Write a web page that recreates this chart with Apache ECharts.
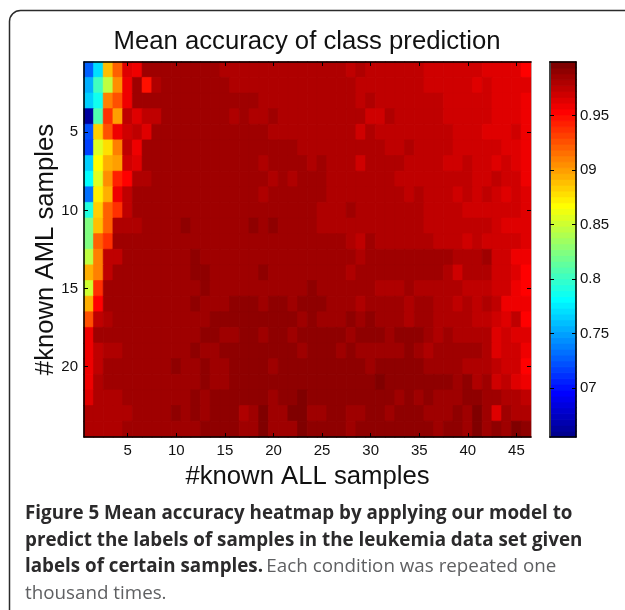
<!DOCTYPE html>
<html><head><meta charset="utf-8">
<style>html,body{margin:0;padding:0;background:#fff}#c{width:625px;height:610px}</style>
<script src="https://cdn.jsdelivr.net/npm/echarts@6/dist/echarts.min.js"></script>
</head><body><div id="c"></div>
<script>
const colLabels = Array.from({length:46},(_, i)=>String(i+1));
const rowLabels = Array.from({length:24},(_, i)=>String(i+1));
// Mean accuracy x 1000; each row is one #known AML count
const r01=[728,771,889,921,964,959,985,985,985,985,985,985,985,985,980,980,980,980,980,980,980,980,980,980,980,980,980,975,980,975,975,975,975,975,975,970,970,970,970,970,970,964,964,964,964,953];
const r02=[755,803,846,905,959,985,948,980,985,985,985,985,985,985,985,980,980,980,980,980,980,980,980,980,980,980,980,980,975,975,975,975,975,975,975,970,970,970,970,970,964,970,964,964,964,964];
const r03=[765,787,910,927,959,985,985,985,985,985,985,985,985,985,985,985,985,985,980,980,980,980,980,980,980,980,980,980,975,980,975,975,975,975,975,975,975,970,970,970,970,970,964,964,964,959];
const r04=[665,808,937,900,975,964,975,975,985,985,985,985,985,985,985,980,985,980,980,985,980,980,980,980,980,980,980,980,980,970,970,980,975,975,975,975,975,970,970,970,970,970,964,964,964,959];
const r05=[722,884,927,959,970,975,964,985,985,985,985,985,985,985,985,985,985,985,985,980,980,980,980,980,980,980,980,980,970,980,975,975,975,975,975,975,975,975,970,970,970,964,964,964,970,959];
const r06=[717,857,878,910,975,959,985,985,985,985,985,985,985,985,985,985,985,985,985,985,985,985,980,980,980,980,980,980,980,980,980,975,975,980,975,975,975,975,970,970,970,970,970,964,964,959];
const r07=[765,868,894,900,970,964,985,985,985,985,985,985,985,985,985,985,985,985,980,985,985,985,985,980,985,980,980,980,970,980,980,980,980,975,975,975,975,970,970,975,970,970,964,970,964,959];
const r08=[782,857,905,943,953,980,980,985,985,985,985,985,985,985,985,985,985,985,985,980,985,980,985,985,985,980,980,980,980,980,980,980,975,975,975,975,975,975,975,975,970,970,975,970,970,959];
const r09=[733,873,894,959,975,985,985,985,985,985,985,985,985,985,985,985,985,985,980,985,985,985,985,985,985,980,980,980,980,980,980,980,980,975,980,975,975,975,970,975,970,975,970,964,970,964];
const r10=[792,884,921,937,975,985,985,985,985,985,985,985,985,985,985,985,985,985,985,985,985,985,985,985,980,980,980,985,980,980,980,980,980,980,980,975,975,975,975,970,970,970,970,970,970,964];
const r11=[825,889,921,980,980,980,985,985,985,985,991,985,985,985,985,985,985,991,985,991,985,985,985,985,980,980,980,980,980,980,980,980,980,980,980,975,975,975,975,975,975,975,970,964,964,964];
const r12=[825,921,937,985,985,985,985,985,985,985,985,985,985,985,985,985,985,985,985,985,985,985,985,985,985,985,985,980,975,985,980,980,980,980,980,980,975,975,975,970,975,970,970,970,970,964];
const r13=[846,910,975,975,985,985,985,985,985,985,985,991,985,985,985,985,985,985,985,985,985,985,985,985,985,985,985,985,980,985,985,985,985,985,985,985,985,985,980,980,980,985,970,970,959,959];
const r14=[894,910,975,985,985,985,985,985,985,985,985,991,991,985,985,985,985,985,991,985,985,985,985,985,985,985,985,980,985,985,985,985,985,985,985,985,985,980,970,980,980,980,970,970,964,953];
const r15=[851,937,985,985,985,985,985,985,985,985,985,985,991,985,985,985,985,985,985,985,985,985,985,991,985,985,985,985,985,985,980,980,980,985,980,980,980,980,980,975,975,975,970,970,959,953];
const r16=[894,953,985,985,985,985,985,985,985,985,985,991,985,985,985,991,991,991,985,991,991,985,991,991,991,985,985,985,980,985,985,985,985,980,985,985,980,980,975,980,975,980,975,959,959,959];
const r17=[927,975,980,985,985,985,985,985,985,985,985,985,985,991,991,991,991,991,991,991,991,991,985,991,985,985,985,991,985,991,985,985,985,980,985,985,980,980,980,980,975,975,970,964,975,953];
const r18=[959,985,985,985,985,985,985,985,985,985,985,985,991,991,985,985,991,991,985,991,991,985,991,991,991,991,991,985,991,991,991,985,991,991,991,985,980,985,980,980,980,980,964,970,964,964];
const r19=[959,975,980,980,985,985,985,985,985,985,985,991,985,985,991,991,991,991,991,991,991,991,985,991,991,991,985,991,985,985,985,985,985,991,985,980,985,985,985,985,985,980,964,970,970,959];
const r20=[959,975,985,985,985,985,985,985,985,991,985,985,991,985,985,991,991,991,991,985,991,991,991,991,991,991,991,991,991,985,991,991,991,991,991,985,985,985,985,980,980,980,975,970,970,953];
const r21=[959,980,985,985,985,985,985,985,985,985,985,985,991,985,985,991,991,991,991,991,991,991,991,991,991,991,991,991,991,991,996,991,991,991,991,991,991,991,985,991,980,985,970,975,964,959];
const r22=[964,980,980,980,985,985,985,985,985,985,985,991,985,991,991,991,991,991,991,985,991,991,996,991,991,991,991,991,991,991,991,991,985,991,985,991,985,985,985,991,991,985,985,980,980,975];
const r23=[980,980,980,980,980,985,985,985,985,991,985,991,985,991,991,991,980,985,996,985,985,996,996,985,985,991,991,985,985,991,991,985,991,991,991,985,985,985,991,985,996,985,964,985,980,980];
const r24=[980,980,980,980,985,985,985,985,985,985,985,985,991,991,991,991,985,985,996,985,985,985,996,991,991,991,991,985,991,991,991,991,991,991,991,991,985,991,991,985,996,985,991,985,996,991];
const accuracyRows=[r01,r02,r03,r04,r05,r06,r07,r08,r09,r10,r11,r12,r13,r14,r15,r16,r17,r18,r19,r20,r21,r22,r23,r24];

const scaleMin=0.655, scaleMax=0.999, levelCount=64;
const cbTickValues=[0.95,0.9,0.85,0.8,0.75,0.7];
const cbTickLabels=['0.95','09','0.85','0.8','0.75','07'];
const titleText='Mean accuracy of class prediction';
const xName='#known ALL samples';
const yName='#known AML samples';
const captionLine1='Figure 5 Mean accuracy heatmap by applying our model to';
const captionLine2='predict the labels of samples in the leukemia data set given';
const captionLine3Bold='labels of certain samples.';
const captionLine3Rest='Each condition was repeated one';
const captionLine4='thousand times.';

// MATLAB jet(64)
function jetColors(){
  const n=16,u=[];
  for(let i=1;i<=n;i++)u.push(i/n);
  for(let i=0;i<n-1;i++)u.push(1);
  for(let i=n;i>=1;i--)u.push(i/n);
  const R=new Array(64).fill(0),G=new Array(64).fill(0),B=new Array(64).fill(0);
  u.forEach((v,i)=>{const g=8+i+1,r=g+n,b=g-n;
    if(g<=64)G[g-1]=v; if(r<=64)R[r-1]=v; if(b>=1)B[b-1]=v;});
  return R.map((_,i)=>`rgb(${Math.round(R[i]*255)},${Math.round(G[i]*255)},${Math.round(B[i]*255)})`);
}
const jet=jetColors();
const step=(scaleMax-scaleMin)/levelCount;
const pieces=jet.map((c,i)=>({gte:scaleMin+i*step-(i==0?1:0),lt:scaleMin+(i+1)*step+(i==63?1:0),color:c}));
const levelOf=(v)=>Math.max(0,Math.min(63,Math.floor((v-scaleMin)/step)));
const seamless=(v)=>({borderColor:jet[levelOf(v)],borderWidth:0.6});
const levelLabels=jet.map((_,i)=>String(i));
const heatData=[];
accuracyRows.forEach((row,r)=>row.forEach((v,c)=>heatData.push({value:[c,r,v/1000],itemStyle:seamless(v/1000)})));
const cbData=jet.map((_,i)=>{const v=scaleMin+(i+0.5)*step;return {value:[0,i,v],itemStyle:seamless(v)};});

const sans='"Liberation Sans",Arial,sans-serif';
const capFont='"Open Sans",sans-serif';
const capSize=18.8, boldColor='#2b2a2b', lightColor='#5f6062';
const every5=(i)=>(i+1)%5===0;
const axisBlack={show:true,lineStyle:{color:'#000',width:1.5}};
const inTick={show:true,inside:true,length:4,alignWithLabel:true,interval:every5,lineStyle:{color:'#000',width:1}};
const noSplit={show:false};

const option={
  animation:false,
  backgroundColor:'#fff',
  textStyle:{fontFamily:sans},
  title:{text:titleText,left:302,top:24,textAlign:'center',
    textStyle:{fontFamily:sans,fontWeight:'normal',fontSize:25.7,color:'#111'}},
  grid:[{left:84,top:62,width:447,height:375},{left:550,top:62,width:26,height:375}],
  visualMap:{type:'piecewise',show:false,dimension:2,seriesIndex:[0,1],pieces:pieces},
  xAxis:[
    {type:'category',z:10,gridIndex:0,data:colLabels,position:'bottom',
     axisLine:axisBlack,axisTick:inTick,splitLine:noSplit,
     axisLabel:{interval:every5,color:'#111',fontSize:15,margin:6},
     name:xName,nameLocation:'middle',nameGap:27,
     nameTextStyle:{fontSize:25.7,color:'#111',fontFamily:sans}},
    {type:'category',z:10,gridIndex:0,data:colLabels,position:'top',splitLine:noSplit,
     axisLine:axisBlack,axisTick:inTick,axisLabel:{show:false}},
    {type:'category',z:10,gridIndex:1,data:[''],position:'bottom',splitLine:noSplit,
     axisLine:axisBlack,axisTick:{show:false},axisLabel:{show:false}},
    {type:'category',z:10,gridIndex:1,data:[''],position:'top',splitLine:noSplit,
     axisLine:axisBlack,axisTick:{show:false},axisLabel:{show:false}}
  ],
  yAxis:[
    {type:'category',z:10,gridIndex:0,data:rowLabels,inverse:true,position:'left',
     axisLine:axisBlack,axisTick:inTick,splitLine:noSplit,
     axisLabel:{interval:every5,color:'#111',fontSize:15,margin:6},
     name:yName,nameLocation:'middle',nameGap:25,nameRotate:90,nameMoveOverlap:false,
     nameTextStyle:{fontSize:25.7,color:'#111',fontFamily:sans}},
    {type:'category',z:10,gridIndex:0,data:rowLabels,inverse:true,position:'right',splitLine:noSplit,
     axisLine:{show:true,lineStyle:{color:'#c9a0a0',width:1}},axisTick:inTick,axisLabel:{show:false}},
    {type:'category',gridIndex:1,data:levelLabels,position:'left',show:false},
    {type:'value',z:10,gridIndex:1,min:scaleMin,max:scaleMax,position:'right',splitLine:noSplit,
     axisLine:{show:true,lineStyle:{color:'#000',width:1.5}},
     axisTick:{show:true,inside:true,length:4,customValues:cbTickValues,lineStyle:{color:'#000'}},
     axisLabel:{customValues:cbTickValues,color:'#111',fontSize:15,margin:4,
       formatter:(v)=>{const i=cbTickValues.findIndex(t=>Math.abs(t-v)<1e-6);return i>=0?cbTickLabels[i]:'';}}},
    {type:'value',z:10,gridIndex:1,min:scaleMin,max:scaleMax,position:'left',splitLine:noSplit,
     axisLine:{show:true,lineStyle:{color:'#444',width:2}},
     axisTick:{show:true,inside:true,length:4,customValues:cbTickValues,lineStyle:{color:'#000'}},
     axisLabel:{show:false}}
  ],
  series:[
    {type:'heatmap',xAxisIndex:0,yAxisIndex:0,data:heatData,progressive:0,emphasis:{disabled:true}},
    {type:'heatmap',xAxisIndex:2,yAxisIndex:2,data:cbData,progressive:0,emphasis:{disabled:true}}
  ],
  graphic:[
    {type:'rect',silent:true,x:0,y:0,
     shape:{x:9.5,y:10.5,width:800,height:800,r:11},
     style:{fill:'none',stroke:'#2b2b2b',lineWidth:1.5}},
    {type:'text',silent:true,x:25,y:514,style:{text:captionLine1,verticalAlign:'middle',
      fontFamily:capFont,fontWeight:'bold',fontSize:capSize,fill:boldColor}},
    {type:'text',silent:true,x:25,y:541,style:{text:captionLine2,verticalAlign:'middle',
      fontFamily:capFont,fontWeight:'bold',fontSize:capSize,fill:boldColor}},
    {type:'text',silent:true,x:25,y:567,style:{verticalAlign:'middle',
      text:'{b|'+captionLine3Bold+'} {r|'+captionLine3Rest+'}',
      rich:{b:{fontFamily:capFont,fontWeight:'bold',fontSize:capSize,fill:boldColor},
            r:{fontFamily:capFont,fontSize:capSize,fill:lightColor}}}},
    {type:'text',silent:true,x:25,y:594,style:{text:captionLine4,verticalAlign:'middle',
      fontFamily:capFont,fontSize:capSize,fill:lightColor}}
  ]
};
echarts.init(document.getElementById('c'),null,{renderer:'canvas'}).setOption(option);
</script></body></html>
